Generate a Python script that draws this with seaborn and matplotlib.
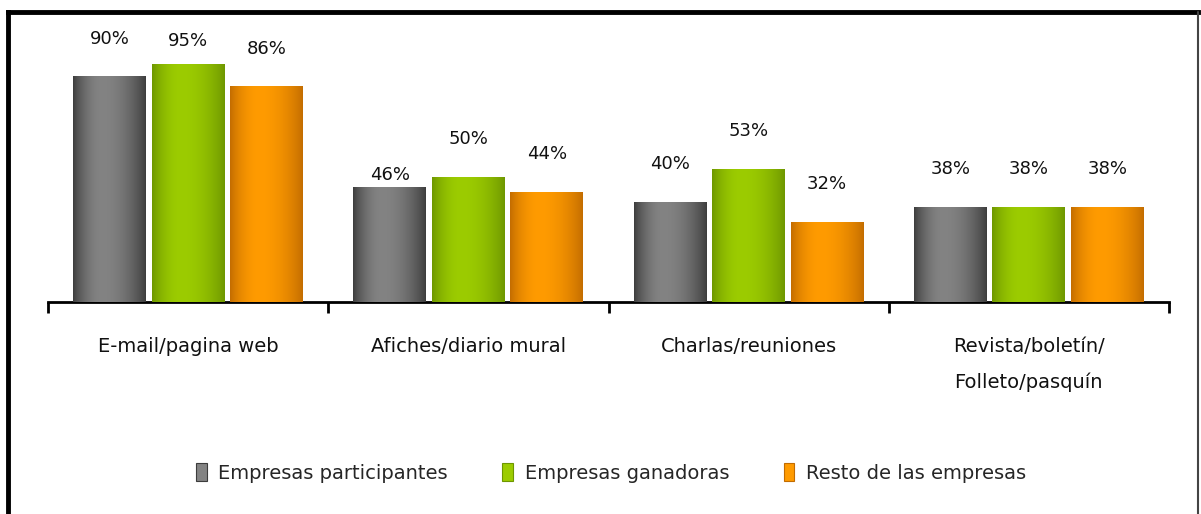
import numpy as np
import pandas as pd
import matplotlib
matplotlib.use("Agg")
import matplotlib.pyplot as plt
from matplotlib.colors import to_rgb
from matplotlib.lines import Line2D
from matplotlib.patches import Patch
import seaborn as sns

# Datos
categorias = ["E-mail/pagina web", "Afiches/diario mural", "Charlas/reuniones",
              "Revista/boletín/\nFolleto/pasquín"]
series = ["Empresas participantes", "Empresas ganadoras", "Resto de las empresas"]
participantes = [90, 46, 40, 38]
ganadoras = [95, 50, 53, 38]
resto = [86, 44, 32, 38]

# colores (borde oscuro, centro claro)
colores = {
    "Empresas participantes": ("#3c3c3c", "#838383"),
    "Empresas ganadoras": ("#6e9600", "#9ccc00"),
    "Resto de las empresas": ("#c26c00", "#ff9b00"),
}

df = pd.DataFrame({
    "categoria": categorias * 3,
    "serie": [s for s in series for _ in categorias],
    "valor": participantes + ganadoras + resto,
})

sns.set_style("white")
plt.rcParams["font.family"] = ["DejaVu Sans"]

fig = plt.figure(figsize=(12.01, 5.14), dpi=100)
ax = fig.add_axes([48 / 1201, 212 / 514, (1169 - 48) / 1201, 251 / 514])

paleta = {s: colores[s][1] for s in series}
sns.barplot(data=df, x="categoria", y="valor", hue="serie", order=categorias,
            hue_order=series, palette=paleta, width=0.84, gap=0.07,
            legend=False, ax=ax, saturation=1)

ax.set_xlim(-0.5, len(categorias) - 0.5)
ax.set_ylim(0, 100)

# degradado horizontal en cada barra
t = np.linspace(0, 1, 200)
perfil = np.where(t < 0.4, np.sin(t / 0.4 * np.pi / 2), np.cos((t - 0.4) / 0.6 * np.pi / 2))
perfil = np.clip(perfil, 0, 1) ** 0.8

n_cat = len(categorias)
for i, bar in enumerate(ax.patches[:n_cat * len(series)]):
    serie = series[i // n_cat]
    oscuro, claro = (np.array(to_rgb(c)) for c in colores[serie])
    img = oscuro[None, :] + (claro - oscuro)[None, :] * perfil[:, None]
    img = img[None, :, :]
    x0, w, h = bar.get_x(), bar.get_width(), bar.get_height()
    im = ax.imshow(img, extent=[x0, x0 + w, 0, h], aspect="auto", zorder=3,
                   interpolation="bilinear")
    im.set_clip_path(bar)
    bar.set_edgecolor("none")

    # etiqueta de valor
    j = i % n_cat
    desplaz = 27
    if (serie, j) == ("Empresas ganadoras", 0):
        desplaz = 16
    if (serie, j) == ("Empresas participantes", 1):
        desplaz = 8
    ax.annotate(f"{h:.0f}%", (x0 + w / 2, h), xytext=(0, desplaz),
                textcoords="offset points", ha="center", va="center",
                fontsize=13, color="#111111")

ax.set_xlabel("")
ax.set_ylabel("")
ax.set_yticks([])
for lado in ["left", "right", "top"]:
    ax.spines[lado].set_visible(False)
ax.spines["bottom"].set_linewidth(2)
ax.spines["bottom"].set_color("black")

ax.set_xticks(range(n_cat))
ax.set_xticklabels(categorias, fontsize=14, linespacing=2.1, color="#111111")
ax.tick_params(axis="x", which="major", length=0, pad=25)
ax.set_xticks(np.arange(-0.5, n_cat, 1.0), minor=True)
ax.tick_params(axis="x", which="minor", bottom=True, length=8, width=2,
               direction="out", color="black")

# leyenda
handles = []
for s in series:
    handles.append(Patch(facecolor=colores[s][1], edgecolor=colores[s][0], linewidth=0.8))
fig.legend(handles, series, loc="center", bbox_to_anchor=(611 / 1201, 1 - 473 / 514),
           ncol=3, frameon=False, fontsize=14, handlelength=0.55, handleheight=1.0,
           handletextpad=0.6, columnspacing=2.8)

# marco
fig.add_artist(Line2D([8 / 1201, 8 / 1201], [0, 1 - 12 / 514], color="black", lw=3.5,
                      transform=fig.transFigure, solid_capstyle="projecting"))
fig.add_artist(Line2D([8 / 1201, 1198 / 1201], [1 - 12 / 514, 1 - 12 / 514], color="black",
                      lw=3.5, transform=fig.transFigure, solid_capstyle="projecting"))
fig.add_artist(Line2D([1197.5 / 1201, 1197.5 / 1201], [0, 1 - 12 / 514], color="#444444",
                      lw=1.5, transform=fig.transFigure))

fig.savefig("out.png", dpi=100, facecolor="white")
